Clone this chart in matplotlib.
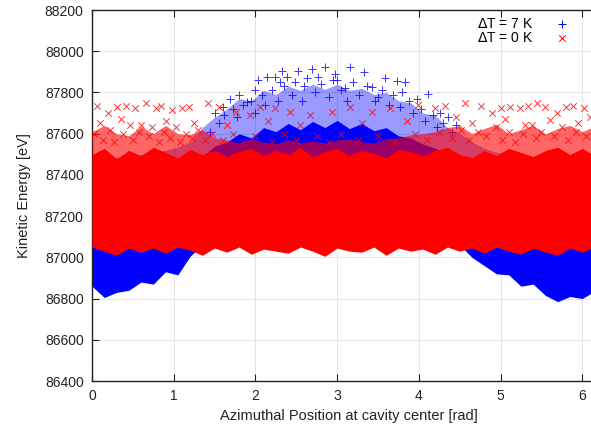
import numpy as np
import matplotlib
matplotlib.use("Agg")
import matplotlib.pyplot as plt

plt.rcParams['font.family'] = ['Liberation Sans', 'DejaVu Sans']
plt.rcParams['font.size'] = 10

# Azimuthal sampling nodes of the particle-cloud envelopes [rad]
phi = [0.00, 0.15, 0.30, 0.45, 0.60, 0.75, 0.90, 1.05, 1.20, 1.35, 1.50,
       1.65, 1.80, 1.95, 2.10, 2.25, 2.40, 2.55, 2.70, 2.85, 3.00, 3.15,
       3.30, 3.45, 3.60, 3.75, 3.90, 4.05, 4.20, 4.35, 4.50, 4.65, 4.80,
       4.95, 5.10, 5.25, 5.40, 5.55, 5.70, 5.85, 6.00, 6.15, 6.30]

# dT = 7 K : dense cloud bounds and sparse halo top [eV]
hot_lo = [86860, 86805, 86830, 86840, 86880, 86870, 86930, 86915, 87005, 87060,
          87100, 87130, 87150, 87165, 87180, 87190, 87200, 87205, 87210, 87210,
          87210, 87210, 87205, 87200, 87195, 87185, 87170, 87150, 87120, 87090,
          87060, 87000, 86960, 86920, 86915, 86860, 86870, 86815, 86785, 86810,
          86800, 86835, 86840]
hot_hi = [87280, 87280, 87285, 87290, 87300, 87320, 87350, 87390, 87440, 87490,
          87540, 87560, 87600, 87580, 87630, 87610, 87650, 87620, 87660, 87630,
          87665, 87625, 87650, 87615, 87630, 87590, 87580, 87550, 87530, 87500,
          87480, 87440, 87400, 87370, 87340, 87320, 87300, 87290, 87285, 87280,
          87280, 87280, 87280]
hot_top = [87480, 87480, 87485, 87490, 87500, 87510, 87520, 87535, 87560, 87630,
           87680, 87720, 87770, 87760, 87810, 87790, 87830, 87810, 87840, 87815,
           87840, 87810, 87820, 87790, 87800, 87760, 87750, 87700, 87690, 87630,
           87600, 87560, 87530, 87510, 87500, 87490, 87485, 87480, 87480, 87480,
           87480, 87480, 87480]

# dT = 0 K : dense cloud bounds and sparse halo top [eV]
cold_lo = [87050, 87030, 87010, 87045, 87025, 87045, 87020, 87050, 87035, 87010,
           87045, 87025, 87050, 87015, 87040, 87030, 87020, 87050, 87030, 87005,
           87045, 87030, 87025, 87050, 87010, 87045, 87030, 87040, 87015, 87050,
           87030, 87045, 87020, 87050, 87030, 87015, 87045, 87025, 87010, 87045,
           87025, 87050, 87035]
cold_hi = [87500, 87530, 87480, 87520, 87495, 87535, 87510, 87485, 87525, 87500,
           87520, 87490, 87515, 87530, 87495, 87520, 87500, 87535, 87490, 87515,
           87530, 87495, 87520, 87505, 87485, 87525, 87515, 87495, 87520, 87535,
           87500, 87485, 87520, 87495, 87530, 87510, 87490, 87520, 87535, 87500,
           87530, 87495, 87515]
cold_top = [87610, 87640, 87600, 87590, 87635, 87600, 87640, 87600, 87595, 87620,
            87580, 87570, 87555, 87575, 87560, 87550, 87570, 87555, 87565, 87555,
            87570, 87575, 87560, 87555, 87575, 87580, 87595, 87600, 87610, 87630,
            87640, 87600, 87625, 87645, 87600, 87620, 87640, 87600, 87625, 87640,
            87610, 87635, 87615]

# Individually resolved particles in the halos
hot_pts_x = [1.45, 1.50, 1.55, 1.60, 1.62, 1.69, 1.72, 1.78, 1.80, 1.85, 1.90,
             1.95, 1.99, 2.00, 2.03, 2.08, 2.12, 2.14, 2.20, 2.24, 2.28, 2.30,
             2.32, 2.35, 2.39, 2.45, 2.48, 2.52, 2.57, 2.60, 2.63, 2.69, 2.73,
             2.77, 2.80, 2.85, 2.90, 2.95, 2.98, 3.00, 3.05, 3.10, 3.12, 3.16,
             3.20, 3.27, 3.33, 3.37, 3.43, 3.46, 3.50, 3.55, 3.59, 3.63, 3.69,
             3.73, 3.77, 3.79, 3.83, 3.88, 3.93, 3.98, 4.03, 4.08, 4.11, 4.17,
             4.22, 4.26, 4.30, 4.36, 4.40, 4.46]
hot_pts_e = [87610, 87700, 87650, 87730, 87690, 87768, 87720, 87680, 87790, 87740,
             87754, 87760, 87812, 87700, 87860, 87790, 87740, 87875, 87810, 87875,
             87760, 87851, 87904, 87830, 87875, 87790, 87850, 87904, 87760, 87830,
             87870, 87914, 87800, 87875, 87840, 87923, 87780, 87860, 87890, 87860,
             87810, 87820, 87760, 87923, 87850, 87790, 87899, 87830, 87826, 87760,
             87780, 87810, 87870, 87740, 87790, 87856, 87730, 87802, 87851, 87760,
             87700, 87768, 87720, 87660, 87792, 87690, 87630, 87700, 87650, 87681,
             87610, 87640]
cold_pts_x = [0.03, 0.06, 0.10, 0.13, 0.19, 0.22, 0.27, 0.30, 0.35, 0.38, 0.41,
              0.46, 0.50, 0.53, 0.57, 0.60, 0.66, 0.70, 0.74, 0.78, 0.82, 0.84,
              0.88, 0.90, 0.95, 0.98, 1.03, 1.08, 1.10, 1.15, 1.19, 1.22, 1.25,
              1.30, 1.38, 1.42, 1.47, 1.55, 1.60, 1.65, 1.72, 1.76, 1.85, 1.93,
              2.00, 2.06, 2.15, 2.20, 2.24, 2.35, 2.42, 2.50, 2.55, 2.67, 2.75,
              2.90, 2.94, 3.05, 3.16, 3.25, 3.30, 3.43, 3.50, 3.65, 3.70, 3.85,
              3.95, 3.99, 4.10, 4.20, 4.25, 4.32, 4.40, 4.45, 4.52, 4.57, 4.62,
              4.65, 4.72, 4.76, 4.82, 4.90, 4.95, 5.00, 5.02, 5.05, 5.10, 5.12,
              5.18, 5.24, 5.28, 5.30, 5.34, 5.38, 5.43, 5.45, 5.50, 5.55, 5.60,
              5.65, 5.69, 5.75, 5.80, 5.83, 5.89, 5.92, 5.95, 6.02, 6.05, 6.10,
              6.15, 6.22]
cold_pts_e = [87600, 87734, 87650, 87570, 87700, 87620, 87560, 87729, 87670, 87600,
              87734, 87640, 87570, 87724, 87610, 87640, 87749, 87590, 87630, 87724,
              87560, 87734, 87610, 87660, 87580, 87715, 87630, 87560, 87724, 87600,
              87729, 87580, 87650, 87620, 87570, 87749, 87600, 87729, 87570, 87640,
              87600, 87705, 87560, 87690, 87590, 87729, 87660, 87560, 87724, 87600,
              87705, 87570, 87640, 87690, 87590, 87560, 87705, 87600, 87729, 87570,
              87650, 87705, 87590, 87724, 87560, 87660, 87600, 87740, 87570, 87724,
              87610, 87734, 87580, 87680, 87620, 87749, 87570, 87650, 87610, 87734,
              87590, 87700, 87630, 87724, 87570, 87670, 87610, 87729, 87560, 87724,
              87600, 87640, 87734, 87640, 87580, 87749, 87610, 87729, 87665, 87590,
              87700, 87630, 87729, 87570, 87734, 87610, 87650, 87724, 87590, 87680,
              87630, 87570]

x_ticks = [0, 1, 2, 3, 4, 5, 6]
y_ticks = [86400, 86600, 86800, 87000, 87200, 87400, 87600, 87800, 88000, 88200]

BLUE = '#0000ff'
RED = '#ff0000'

fig = plt.figure(figsize=(5.91, 4.28), dpi=100)
ax = fig.add_axes([0.1557, 0.1098, 0.8686, 0.8668])

# dT = 7 K cloud: solid core, thinner halo, resolved particles
ax.fill_between(phi, hot_lo, hot_hi, color=BLUE, lw=0, zorder=2)
ax.fill_between(phi, hot_hi, hot_top, color=BLUE, alpha=0.4, lw=0, zorder=2)
ax.scatter(hot_pts_x, hot_pts_e, marker='+', s=30, c=BLUE, linewidths=0.7,
           alpha=0.8, zorder=3)

# dT = 0 K cloud drawn on top
ax.fill_between(phi, cold_hi, cold_top, color=RED, alpha=0.6, lw=0, zorder=4)
ax.fill_between(phi, cold_lo, cold_hi, color=RED, lw=0, zorder=4)
ax.scatter(cold_pts_x, cold_pts_e, marker='x', s=22, c=RED, linewidths=0.7,
           alpha=0.8, zorder=5)

# Legend entries
h1 = ax.scatter([], [], marker='+', s=30, c=BLUE, linewidths=0.7)
h2 = ax.scatter([], [], marker='x', s=22, c=RED, linewidths=0.7)
ax.legend([h1, h2], [r'$\Delta$T = 7 K', r'$\Delta$T = 0 K'], markerfirst=False,
          frameon=False, loc='upper right', bbox_to_anchor=(0.995, 0.99),
          bbox_transform=fig.transFigure, handletextpad=1.0, labelspacing=0.0,
          fontsize=10)

ax.set_xlim(0, 2 * np.pi)
ax.set_ylim(86400, 88200)
ax.set_xticks(x_ticks)
ax.set_yticks(y_ticks)
ax.set_yticklabels([str(v) for v in y_ticks])
ax.grid(True, color='#e4e4e4', lw=0.8, zorder=0)
ax.set_axisbelow(True)
ax.tick_params(direction='in', top=True, right=True, length=5, width=0.8,
               colors='#222222', labelsize=10, pad=6)
for sp in ax.spines.values():
    sp.set_color('#222222')
    sp.set_linewidth(1.0)

ax.set_xlabel('Azimuthal Position at cavity center [rad]', color='#222222',
              fontsize=10.5, labelpad=4)
ax.set_ylabel('Kinetic Energy [eV]', color='#222222', fontsize=10.5, labelpad=10)

fig.savefig('out.png', dpi=100)
